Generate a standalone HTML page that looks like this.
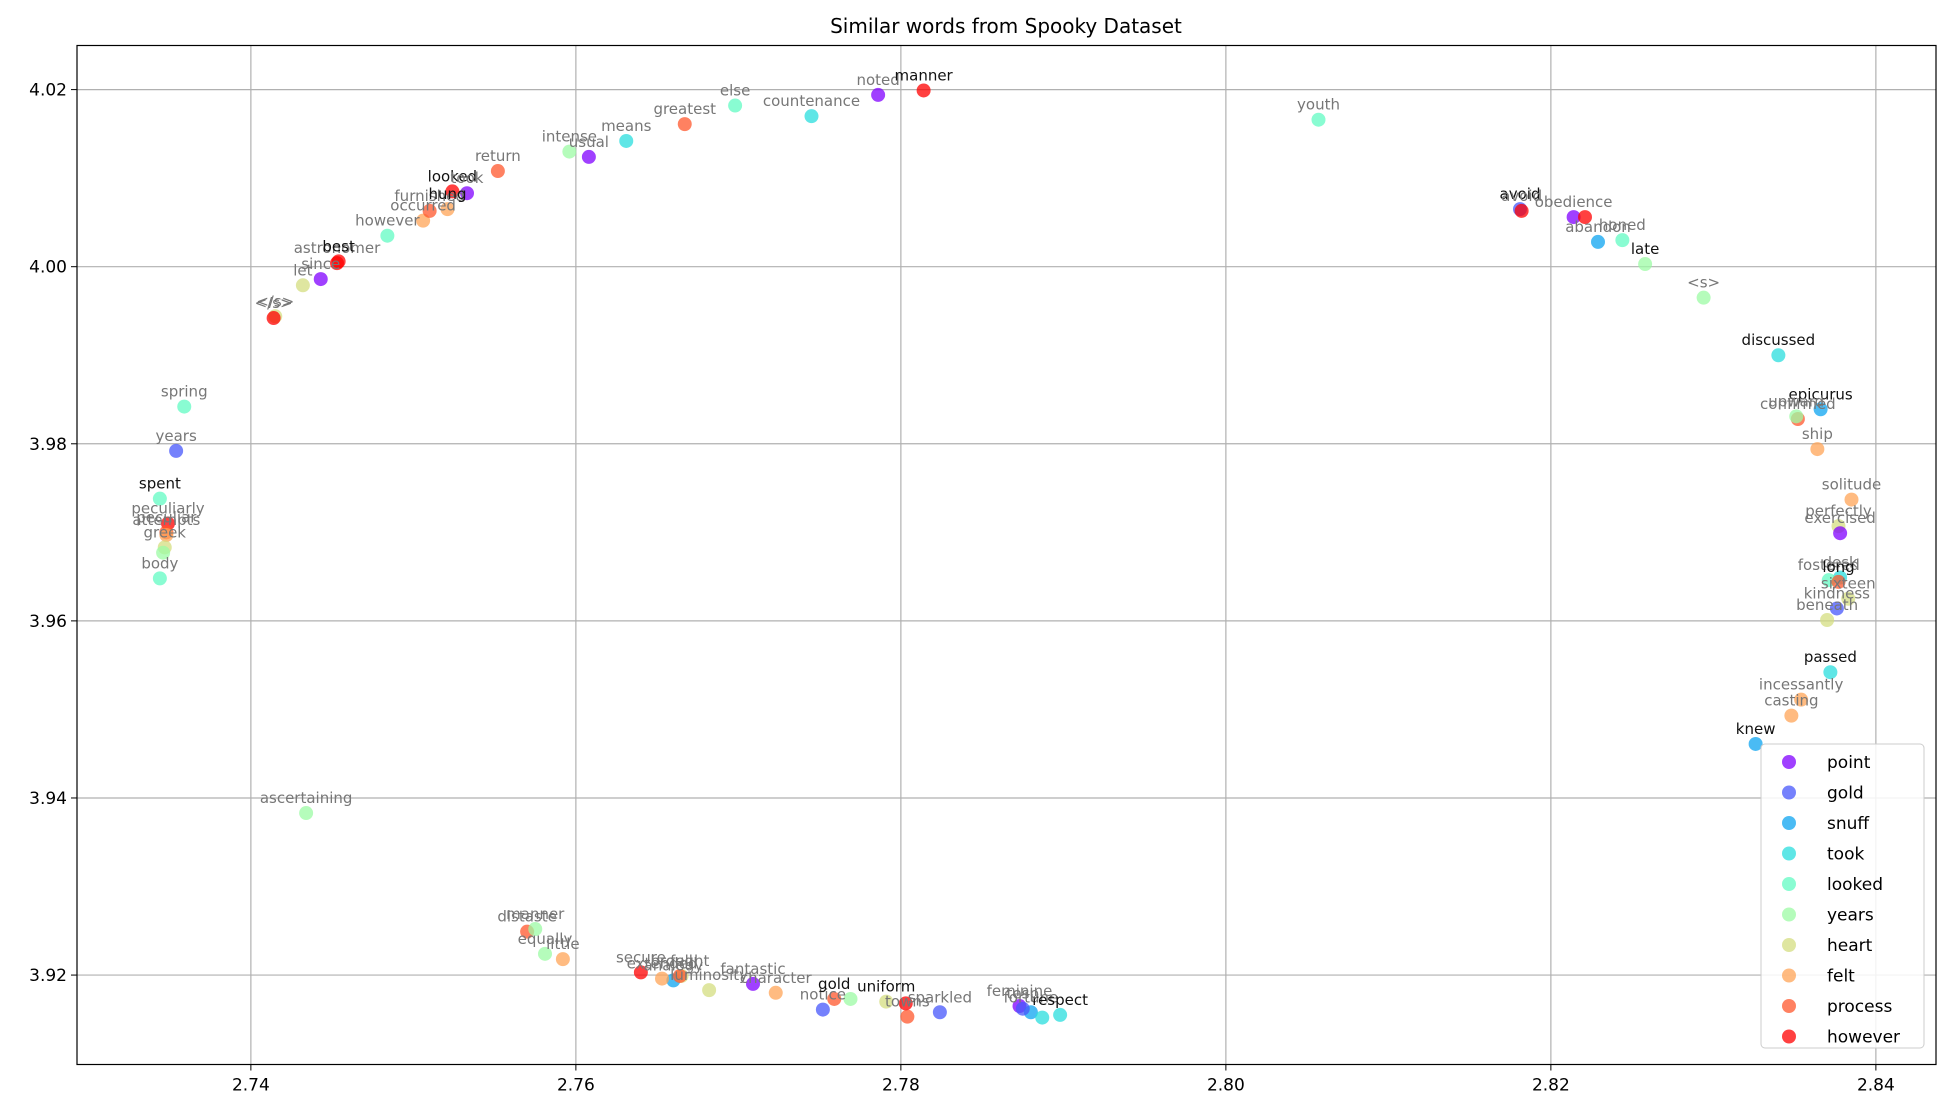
<!DOCTYPE html>
<html><head><meta charset="utf-8"><style>
html,body{margin:0;padding:0;background:#fff;}
svg{display:block;font-family:"DejaVu Sans","Liberation Sans",sans-serif;}
</style></head><body>
<svg id="chart" width="1951" height="1115" viewBox="0 0 1951 1115" xmlns="http://www.w3.org/2000/svg">
<rect width="1951" height="1115" fill="#fff"/>
<text x="1006" y="33" font-size="20" text-anchor="middle" fill="#000">Similar words from Spooky Dataset</text>
<g id="grid"></g><g id="pts"></g><g id="lbls"></g><g id="axes"></g><g id="legend"></g>
</svg>
<script>
const groupNames=["point","gold","snuff","took","looked","years","heart","felt","process","however"];
const groupColors=["#8000ff","#4757fb","#0ea4f0","#2adddd","#62fbc3","#9cfba4","#d4dd80","#ffa457","#ff572c","#ff0000"];
const xTicks=[2.74,2.76,2.78,2.80,2.82,2.84];
const yTicks=[3.92,3.94,3.96,3.98,4.00,4.02];
const words=["</s>","</s>","let","since","astronomer","best","however","occurred","furnished","hung","looked","took","return","intense","usual","means","greatest","else","countenance","noted","manner","youth","avoid","avoid","obedience","","abandon","honed","late","<s>","discussed","epicurus","confirmed","upward","ship","solitude","perfectly","exercised","desk","fostered","long","kindness","sixteen","beneath","passed","incessantly","casting","knew","spring","years","spent","peculiarly","peculiar","attempts","greek","","body","ascertaining","distaste","manner","equally","little","secure","analogy","extended","fell","brought","luminosity","fantastic","notice","character","gold","","uniform","towns","","sparkled","feminine","fortune","","respect","tesp"];
const xs=[2.7415,2.7414,2.7432,2.7443,2.7453,2.7454,2.7484,2.7506,2.7510,2.7521,2.7524,2.7533,2.7552,2.7596,2.7608,2.7631,2.7667,2.7698,2.7745,2.7786,2.7814,2.8057,2.8181,2.8182,2.8214,2.8221,2.8229,2.8244,2.8258,2.8294,2.8340,2.8366,2.8352,2.8351,2.8364,2.8385,2.8377,2.8378,2.8378,2.8371,2.8377,2.8376,2.8383,2.8370,2.8372,2.8354,2.8348,2.8326,2.7359,2.7354,2.7344,2.7349,2.7348,2.7348,2.7347,2.7346,2.7344,2.7434,2.7570,2.7575,2.7581,2.7592,2.7640,2.7660,2.7653,2.7665,2.7664,2.7682,2.7709,2.7752,2.7723,2.7759,2.7769,2.7791,2.7804,2.7803,2.7824,2.7873,2.7880,2.7887,2.7898,2.7875];
const ys=[3.9944,3.9942,3.9979,3.9986,4.0004,4.0006,4.0035,4.0052,4.0063,4.0065,4.0085,4.0083,4.0108,4.0130,4.0124,4.0142,4.0161,4.0182,4.0170,4.0194,4.0199,4.0166,4.0065,4.0063,4.0056,4.0056,4.0028,4.0030,4.0003,3.9965,3.9900,3.9839,3.9828,3.9831,3.9794,3.9737,3.9707,3.9699,3.9649,3.9646,3.9644,3.9614,3.9625,3.9601,3.9542,3.9511,3.9493,3.9461,3.9842,3.9792,3.9738,3.9710,3.9700,3.9697,3.9683,3.9677,3.9648,3.9383,3.9249,3.9252,3.9224,3.9218,3.9203,3.9194,3.9196,3.9199,3.9199,3.9183,3.9190,3.9161,3.9180,3.9173,3.9173,3.9170,3.9153,3.9168,3.9158,3.9165,3.9158,3.9152,3.9155,3.9162];
const groups=[6,9,6,0,9,9,4,7,8,7,9,0,8,5,0,3,8,4,3,0,9,4,1,9,0,9,2,4,5,5,3,2,8,5,7,7,6,0,3,4,8,1,6,6,3,7,7,2,4,1,4,9,8,7,6,5,4,5,8,5,5,7,9,2,7,6,8,6,0,1,7,8,5,6,8,9,1,0,2,3,3,1];
const dark=[0,0,0,0,0,1,0,0,0,1,1,0,0,0,0,0,0,0,0,0,1,0,1,0,0,0,0,0,1,0,1,1,0,0,0,0,0,0,0,0,1,0,0,0,1,0,0,1,0,0,1,0,0,0,0,0,0,0,0,0,0,0,0,0,0,0,0,0,0,0,0,1,0,1,0,0,0,0,0,0,1,0];
const L=77,R=1936,T=45.5,B=1064.5,XMIN=2.7293,XMAX=2.8437,YMIN=3.9099,YMAX=4.02498;
const sx=v=>L+(v-XMIN)/(XMAX-XMIN)*(R-L);
const sy=v=>B-(v-YMIN)/(YMAX-YMIN)*(B-T);
const NS="http://www.w3.org/2000/svg";
function mk(tag,attrs,parent){const e=document.createElementNS(NS,tag);for(const k in attrs)e.setAttribute(k,attrs[k]);parent.appendChild(e);return e;}
const grid=document.getElementById('grid'),axes=document.getElementById('axes');
xTicks.forEach(t=>{const x=sx(t);
 const g=mk('line',{x1:x,x2:x,y1:T,y2:B,stroke:'#b0b0b0','stroke-width':1.2},grid);
 
 
 mk('line',{x1:x,x2:x,y1:B,y2:B+6,stroke:'#000','stroke-width':1},axes);
 const tx=mk('text',{x:x,y:B+26,'font-size':17,'text-anchor':'middle'},axes);tx.textContent=t.toFixed(2);
 
 
});
yTicks.forEach(t=>{const y=sy(t);
 const g=mk('line',{x1:L,x2:R,y1:y,y2:y,stroke:'#b0b0b0','stroke-width':1.2},grid);
 
 
 mk('line',{x1:L-6,x2:L,y1:y,y2:y,stroke:'#000','stroke-width':1},axes);
 const tx=mk('text',{x:L-10,y:y+6,'font-size':17,'text-anchor':'end'},axes);tx.textContent=t.toFixed(2);
 
 
});
const frame=mk('rect',{x:L,y:T,width:R-L,height:B-T,fill:'none',stroke:'#000','stroke-width':1.2},axes);


const pts=document.getElementById('pts'),lbls=document.getElementById('lbls');
words.forEach((w,i)=>{const x=sx(xs[i]),y=sy(ys[i]);
 const c=mk('circle',{cx:x,cy:y,r:7,fill:groupColors[groups[i]],'fill-opacity':0.75},pts);
 
 
 if(w){const t=mk('text',{x:x,y:y-10,'font-size':15,'text-anchor':'middle',fill:dark[i]?'#111':'#777'},lbls);t.textContent=w;
 
 }
});
const lg=document.getElementById('legend');
const lx=1761,ly=744,lh=304,lw=163;
const box=mk('rect',{x:lx,y:ly,width:lw,height:lh,rx:4,fill:'#fff','fill-opacity':0.85,stroke:'#ccc'},lg);


groupNames.forEach((n,i)=>{const y=ly+18+i*30.5;
 const c=mk('circle',{cx:lx+28,cy:y,r:7,fill:groupColors[i],'fill-opacity':0.75},lg);
 
 
 const t=mk('text',{x:lx+66,y:y+6,'font-size':17},lg);t.textContent=n;
 
 
});
</script>
</body></html>
